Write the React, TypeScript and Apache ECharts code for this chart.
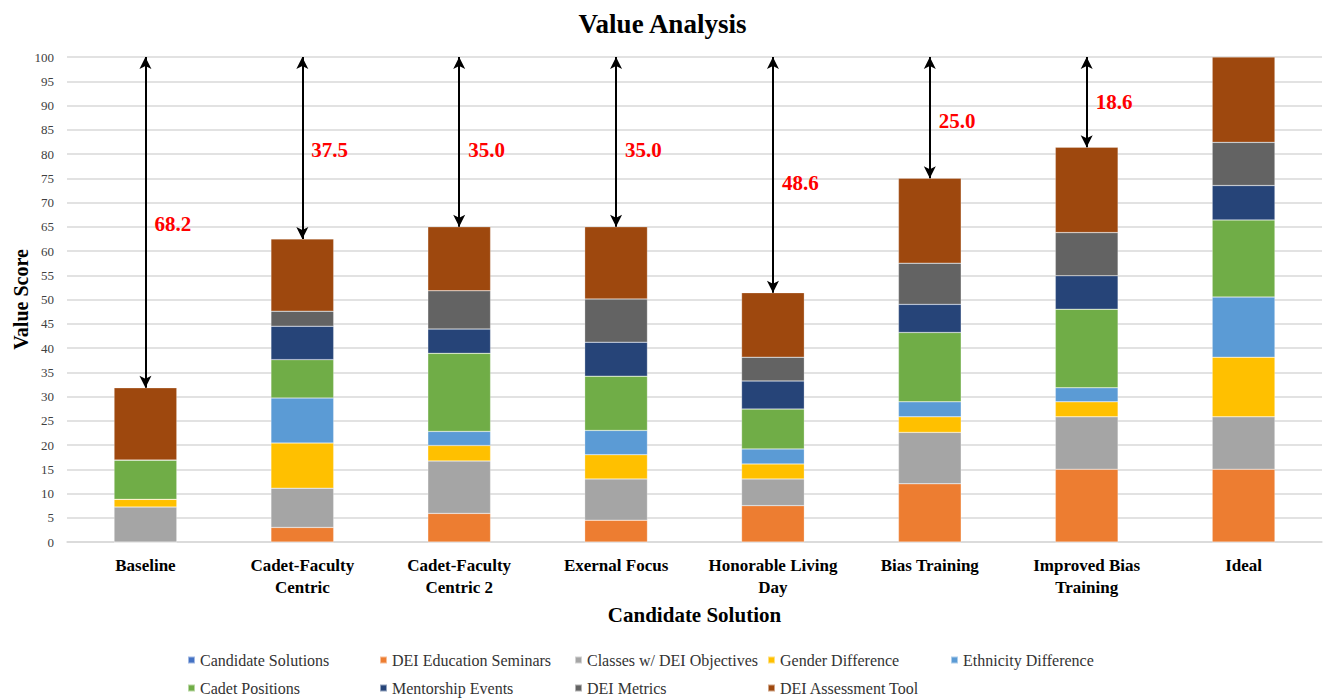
import React, { useEffect, useRef } from "react";
import * as echarts from "echarts";

const categories = [
  "Baseline",
  "Cadet-Faculty\nCentric",
  "Cadet-Faculty\nCentric 2",
  "Exernal Focus",
  "Honorable Living\nDay",
  "Bias Training",
  "Improved Bias\nTraining",
  "Ideal",
];

const seriesNames = [
  "Candidate Solutions",
  "DEI Education Seminars",
  "Classes w/ DEI Objectives",
  "Gender Difference",
  "Ethnicity Difference",
  "Cadet Positions",
  "Mentorship Events",
  "DEI Metrics",
  "DEI Assessment Tool",
];

const candidateSolutions = [0, 0, 0, 0, 0, 0, 0, 0];
const deiEducationSeminars = [0, 3.0, 5.9, 4.5, 7.5, 12.0, 15.0, 15.0];
const classesDEIObjectives = [7.2, 8.1, 10.8, 8.5, 5.5, 10.6, 10.8, 10.8];
const genderDifference = [1.6, 9.3, 3.2, 5.0, 3.1, 3.2, 3.1, 12.3];
const ethnicityDifference = [0, 9.3, 2.9, 5.0, 3.1, 3.1, 2.9, 12.4];
const cadetPositions = [8.1, 7.9, 16.1, 11.2, 8.2, 14.3, 16.2, 15.9];
const mentorshipEvents = [0, 6.9, 5.0, 7.0, 5.8, 5.8, 6.9, 7.1];
const deiMetrics = [0, 3.1, 7.9, 8.9, 4.9, 8.5, 8.9, 8.9];
const deiAssessmentTool = [14.9, 14.9, 13.2, 14.9, 13.3, 17.5, 17.6, 17.6];

// y position (value units) of each gap label, for the first seven categories
const gapLabelY = [65.6, 80.8, 80.8, 80.8, 74.0, 86.8, 90.7];

const colors = [
  "#4472C4",
  "#ED7D31",
  "#A5A5A5",
  "#FFC000",
  "#5B9BD5",
  "#70AD47",
  "#264478",
  "#636363",
  "#9E480E",
];

const legendPos = [
  [187, 652],
  [379, 652],
  [574, 652],
  [767, 652],
  [950, 652],
  [187, 680],
  [379, 680],
  [574, 680],
  [767, 680],
];

const FONT = "Liberation Serif";

export default function App() {
  const ref = useRef<HTMLDivElement>(null);

  useEffect(() => {
    document.body.style.margin = "0";
    if (!ref.current) return;
    const chart = echarts.init(ref.current, null, { renderer: "svg" });

    const allData = [
      candidateSolutions,
      deiEducationSeminars,
      classesDEIObjectives,
      genderDifference,
      ethnicityDifference,
      cadetPositions,
      mentorshipEvents,
      deiMetrics,
      deiAssessmentTool,
    ];
    const totals = categories.map((_, i) =>
      allData.reduce((s, arr) => s + arr[i], 0)
    );
    const arrowCats = categories.slice(0, 7);

    const barSeries: any[] = seriesNames.map((name, k) => ({
      name,
      type: "bar",
      stack: "total",
      barWidth: "40%",
      data: allData[k],
      itemStyle: { color: colors[k], borderColor: "rgba(255,255,255,0.5)", borderWidth: 0.5 },
      emphasis: { disabled: true },
    }));

    barSeries[8].markLine = {
      silent: true,
      symbol: ["arrow", "arrow"],
      symbolSize: [9, 12],
      label: { show: false },
      lineStyle: { color: "#000", width: 2, type: "solid" },
      emphasis: { disabled: true },
      data: arrowCats.map((c, i) => [
        { coord: [c, totals[i]] },
        { coord: [c, 100] },
      ]),
    };

    const labelSeries = {
      name: "gapLabels",
      type: "scatter",
      symbolSize: 0,
      silent: true,
      itemStyle: { opacity: 1, color: "transparent" },
      data: arrowCats.map((c, i) => [c, gapLabelY[i], (100 - totals[i]).toFixed(1)]),
      label: {
        show: true,
        position: "right",
        distance: 9,
        formatter: (p: any) => p.value[2],
        color: "#FF0000",
        opacity: 1,
        fontWeight: "bold",
        fontSize: 21,
        fontFamily: FONT,
        textBorderWidth: 0,
      },
    };

    const legends = seriesNames.map((name, k) => ({
      data: [name],
      left: legendPos[k][0],
      top: legendPos[k][1],
      padding: 0,
      icon: "rect",
      itemWidth: 7,
      itemHeight: 7,
      selectedMode: false,
      textStyle: { fontFamily: FONT, fontSize: 16, color: "#333333" },
    }));

    chart.setOption({
      animation: false,
      color: colors,
      title: {
        text: "Value Analysis",
        left: "center",
        top: 5,
        textStyle: { fontFamily: FONT, fontSize: 27, fontWeight: "bold", color: "#000" },
      },
      legend: legends,
      grid: { left: 67, right: 3, top: 57, bottom: 156, containLabel: false, outerBoundsMode: "none" },
      xAxis: {
        type: "category",
        data: categories,
        name: "Candidate Solution",
        nameLocation: "middle",
        nameGap: 62,
        nameMoveOverlap: false,
        nameTextStyle: { fontFamily: FONT, fontSize: 21, fontWeight: "bold", color: "#000" },
        axisLine: { lineStyle: { color: "#D9D9D9", width: 1.5 } },
        axisTick: { show: false },
        axisLabel: {
          fontFamily: FONT,
          fontSize: 17,
          fontWeight: "bold",
          color: "#000",
          margin: 12,
          lineHeight: 22,
          interval: 0,
        },
      },
      yAxis: {
        type: "value",
        min: 0,
        max: 100,
        interval: 5,
        name: "Value Score",
        nameLocation: "middle",
        nameGap: 36,
        nameMoveOverlap: false,
        nameTextStyle: { fontFamily: FONT, fontSize: 20, fontWeight: "bold", color: "#000" },
        axisLine: { show: false },
        axisTick: { show: false },
        splitLine: { lineStyle: { color: "#D9D9D9", width: 1.5 } },
        axisLabel: { fontFamily: FONT, fontSize: 13, color: "#404040", margin: 13 },
      },
      series: [...barSeries, labelSeries],
    });

    return () => chart.dispose();
  }, []);

  return <div ref={ref} style={{ width: 1325, height: 698 }} />;
}
